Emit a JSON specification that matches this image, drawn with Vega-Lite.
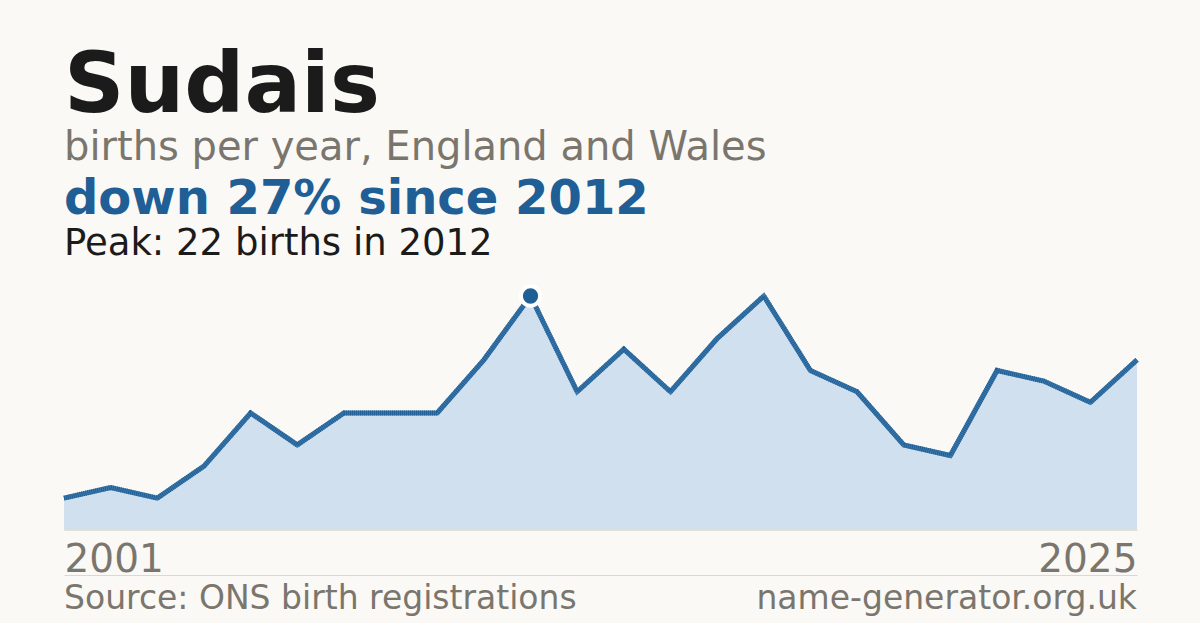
{
  "$schema": "https://vega.github.io/schema/vega-lite/v6.json",
  "background": "#faf9f5",
  "padding": {"left": 54, "top": 45, "right": 63, "bottom": 0},
  "config": {
    "font": "DejaVu Sans",
    "view": {"stroke": null},
    "concat": {"spacing": 45}
  },
  "title": {
    "text": "Sudais",
    "subtitle": "births per year, England and Wales",
    "anchor": "start",
    "frame": "group",
    "fontSize": 84,
    "fontWeight": "bold",
    "color": "#1b1b1b",
    "subtitleFontSize": 40,
    "subtitleColor": "#7a766e",
    "subtitlePadding": -2,
    "offset": 7
  },
  "bounds": "flush",
  "vconcat": [
    {
      "width": 1073,
      "height": 234,
      "title": {
        "text": "down 27% since 2012",
        "subtitle": "Peak: 22 births in 2012",
        "anchor": "start",
        "frame": "group",
        "fontSize": 48,
        "fontWeight": "bold",
        "color": "#1f5f96",
        "subtitleFontSize": 37,
        "subtitleColor": "#1b1b1b",
        "subtitlePadding": 2,
        "offset": 16
      },
      "data": {
        "values": [
          {"year": 2001, "births": 3},
          {"year": 2002, "births": 4},
          {"year": 2004, "births": 3},
          {"year": 2005, "births": 6},
          {"year": 2006, "births": 11},
          {"year": 2007, "births": 8},
          {"year": 2008, "births": 11},
          {"year": 2009, "births": 11},
          {"year": 2010, "births": 11},
          {"year": 2011, "births": 16},
          {"year": 2012, "births": 22},
          {"year": 2013, "births": 13},
          {"year": 2014, "births": 17},
          {"year": 2015, "births": 13},
          {"year": 2016, "births": 18},
          {"year": 2017, "births": 22},
          {"year": 2018, "births": 15},
          {"year": 2019, "births": 13},
          {"year": 2020, "births": 8},
          {"year": 2021, "births": 7},
          {"year": 2022, "births": 15},
          {"year": 2023, "births": 14},
          {"year": 2024, "births": 12},
          {"year": 2025, "births": 16}
        ]
      },
      "encoding": {
        "x": {
          "field": "year",
          "type": "ordinal",
          "scale": {"type": "point", "padding": 0},
          "axis": {
            "values": [2001, 2025],
            "title": null,
            "ticks": false,
            "grid": false,
            "domain": true,
            "domainColor": "#e6dfd4",
            "domainWidth": 1,
            "labelAngle": 0,
            "labelFontSize": 39,
            "labelColor": "#7a766e",
            "labelPadding": 10,
            "labelAlign": {"condition": {"test": "datum.value == 2001", "value": "left"}, "value": "right"}
          }
        },
        "y": {
          "field": "births",
          "type": "quantitative",
          "scale": {"domain": [0, 22], "nice": false},
          "axis": null
        }
      },
      "layer": [
        {"mark": {"type": "area", "color": "#d0e0ef"}},
        {"mark": {"type": "line", "color": "#3f79ab", "strokeWidth": 5}},
        {"mark": {"type": "line", "color": "#1f5f96", "strokeWidth": 5, "strokeDash": [1, 1]}},
        {
          "transform": [{"filter": "datum.year == 2012"}],
          "mark": {"type": "point", "filled": true, "color": "#1f5f96", "size": 372, "stroke": "#ffffff", "strokeWidth": 4, "opacity": 1}
        }
      ]
    },
    {
      "width": 1073,
      "height": 48,
      "data": {
        "values": [
          {"label": "Source: ONS birth registrations", "side": 0},
          {"label": "name-generator.org.uk", "side": 1}
        ]
      },
      "encoding": {
        "x": {
          "field": "side",
          "type": "quantitative",
          "scale": {"domain": [0, 1], "nice": false, "zero": false},
          "axis": {"orient": "top", "title": null, "labels": false, "ticks": false, "grid": false, "domain": true, "domainColor": "#ddd7ce"}
        },
        "text": {"field": "label"}
      },
      "layer": [
        {
          "transform": [{"filter": "datum.side == 0"}],
          "mark": {"type": "text", "align": "left", "fontSize": 33, "color": "#7a766e"}
        },
        {
          "transform": [{"filter": "datum.side == 1"}],
          "mark": {"type": "text", "align": "right", "fontSize": 33, "color": "#7a766e"}
        }
      ]
    }
  ]
}
